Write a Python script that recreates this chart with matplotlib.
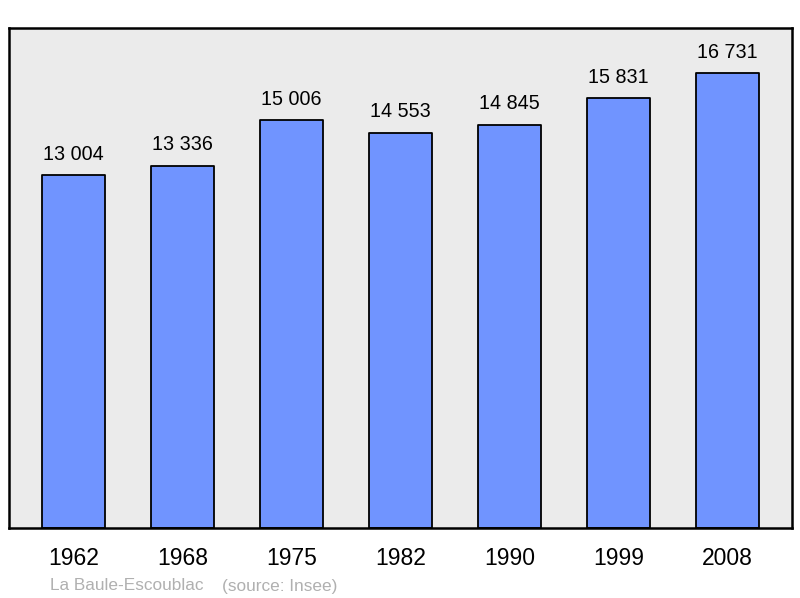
import matplotlib.pyplot as plt

years = ["1962", "1968", "1975", "1982", "1990", "1999", "2008"]
population = [13004, 13336, 15006, 14553, 14845, 15831, 16731]


def fmt(v):
    return f"{v:,}".replace(",", " ")


plt.rcParams["font.family"] = ["Liberation Sans", "DejaVu Sans"]

fig = plt.figure(figsize=(8, 5.98), dpi=100)
ax = fig.add_axes([9 / 800, 70 / 598, 783 / 800, 500 / 598])
ax.set_facecolor("#ebebeb")

x = list(range(len(years)))
ax.bar(x, population, width=0.58, color="#7094ff", edgecolor="black",
       linewidth=1.3, joinstyle="round", zorder=2)

for xi, v in zip(x, population):
    ax.annotate(fmt(v), (xi, v), xytext=(0, 8), textcoords="offset points",
                ha="center", va="bottom", fontsize=14.2)

ax.set_xlim(-0.592, 6.592)
ax.set_ylim(0, 18400)
ax.set_xticks(x)
ax.set_xticklabels(years, fontsize=16.5)
ax.tick_params(axis="x", length=0, pad=14)
ax.set_yticks([])
for s in ax.spines.values():
    s.set_linewidth(1.8)
    s.set_color("black")

fig.text(50 / 800, 1 - 586 / 598, "La Baule-Escoublac",
         fontsize=12.4, color="#b0b0b0", va="center", ha="left")
fig.text(222 / 800, 1 - 586 / 598, "(source: Insee)",
         fontsize=12.4, color="#b0b0b0", va="center", ha="left")

fig.savefig("out.png", dpi=100)
